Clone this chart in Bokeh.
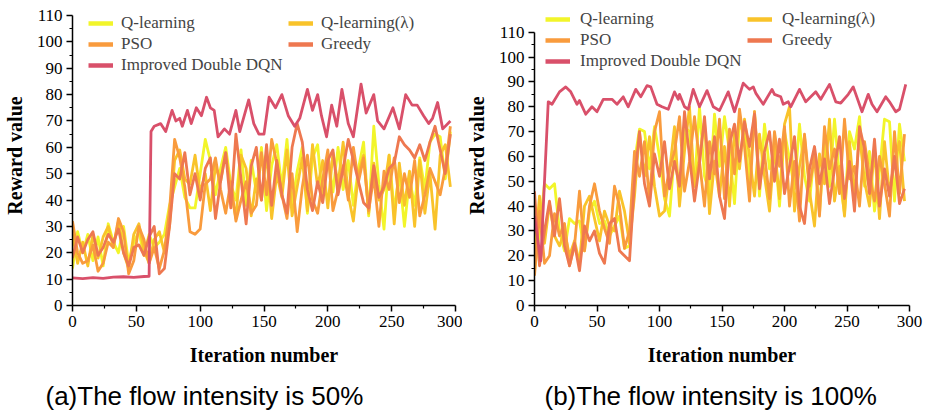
from bokeh.plotting import figure
from bokeh.layouts import row
from bokeh.models import Range1d, Legend, LegendItem, Title, FixedTicker
from bokeh.embed import file_html
from bokeh.resources import INLINE

# ---------------- data ----------------
series_names = ["Q-learning", "Q-learning(\u03bb)", "PSO", "Greedy", "Improved Double DQN"]
series_colors = ["#F2F52A", "#F9C32A", "#F99B3D", "#EE7850", "#D9506A"]

iters = list(range(0, 300, 4))  # shared iteration grid for the four baselines

# (a) flow intensity 50%
a_qlearn = [14, 28, 20, 27, 17, 26, 15, 31, 24, 20, 30, 16, 24, 28, 19, 27, 22, 24, 27,
            38, 45, 52, 41, 37, 37, 50, 63, 55, 42, 52, 60, 46, 40, 59, 38, 55, 43, 60, 36,
            53, 61, 45, 63, 38, 51, 60, 35, 56, 61, 40, 57, 43, 60, 44, 55, 38, 52, 62, 34,
            68, 46, 29, 57, 36, 50, 30, 48, 38, 56, 44, 62, 65, 64, 48, 66]
a_qlambda = [27, 16, 24, 15, 27, 18, 26, 30, 22, 32, 20, 14, 27, 31, 21, 16, 25, 28, 20,
             30, 55, 59, 48, 46, 57, 43, 50, 36, 53, 47, 58, 44, 33, 57, 52, 34, 48, 40, 58,
             33, 50, 41, 59, 34, 45, 56, 36, 61, 45, 55, 37, 58, 46, 62, 42, 32, 50, 57, 35,
             54, 40, 44, 57, 31, 54, 38, 51, 30, 55, 35, 50, 29, 57, 61, 45]
a_pso = [32, 20, 16, 17, 23, 13, 16, 24, 22, 33, 28, 12, 17, 30, 25, 16, 22, 14, 21,
         36, 63, 56, 45, 28, 27, 29, 46, 48, 56, 44, 35, 47, 32, 40, 47, 35, 38, 58, 42,
         63, 54, 42, 33, 50, 28, 45, 57, 40, 35, 48, 59, 36, 44, 53, 40, 60, 47, 56, 36,
         49, 30, 51, 44, 56, 39, 50, 41, 55, 34, 42, 52, 47, 42, 52, 68]
a_greedy = [18, 26, 20, 25, 28, 19, 22, 27, 24, 29, 20, 15, 22, 23, 19, 26, 30, 12, 14,
            30, 50, 48, 58, 42, 50, 40, 52, 56, 33, 47, 58, 37, 65, 48, 31, 53, 60, 40, 61,
            38, 55, 42, 35, 60, 69, 62, 44, 36, 47, 39, 55, 59, 42, 52, 63, 55, 47, 39, 37,
            53, 41, 45, 52, 54, 64, 61, 59, 56, 61, 55, 62, 68, 59, 50, 65]
a_dqn_x = [0, 8, 16, 24, 32, 40, 48, 56, 60, 61.5, 64, 69, 73, 78, 81, 84, 86, 90, 93,
           97, 101, 105, 108, 111, 114, 119, 123, 128, 131, 138, 142, 146, 150, 154, 159,
           164, 169, 174, 178, 184, 188, 192, 195, 199, 203, 207, 211, 216, 220, 226, 230,
           236, 239, 244, 251, 256, 261, 266, 270, 275, 279, 282, 286, 290, 296]
a_dqn_y = [10.5, 10.2, 10.6, 10.3, 10.8, 10.9, 10.7, 11.0, 11.1, 66, 68, 69, 66, 74, 70,
           71, 68, 74, 69, 75, 72, 79, 75, 74, 64, 67, 65, 74, 66, 78, 69, 65, 65, 79, 75,
           80, 72, 68, 71, 82, 74, 80, 72, 64, 76, 68, 82, 69, 64, 84, 73, 80, 70, 67, 75,
           67, 80, 76, 76, 72, 69, 71, 77, 67, 70]

# (b) flow intensity 100%
b_qlearn = [14, 30, 49, 47, 49, 30, 22, 35, 33, 34, 22, 38, 42, 33, 34, 28, 32, 36, 23, 24,
            58, 71, 70, 55, 72, 60, 43, 36, 62, 45, 72, 70, 48, 80, 52, 45, 77, 56, 76, 62,
            41, 74, 68, 50, 78, 44, 73, 55, 64, 40, 70, 59, 47, 73, 52, 42, 62, 37, 66, 48,
            75, 52, 37, 70, 63, 76, 48, 62, 38, 54, 75, 74, 42, 73, 58]
b_qlambda = [20, 44, 25, 41, 28, 24, 30, 20, 26, 17, 40, 44, 35, 26, 38, 32, 30, 46, 38, 25,
             44, 70, 52, 68, 48, 36, 38, 54, 72, 40, 62, 80, 48, 60, 74, 37, 58, 44, 64, 40,
             70, 55, 75, 60, 44, 69, 52, 38, 64, 43, 73, 80, 38, 56, 68, 46, 32, 61, 49, 75,
             42, 56, 36, 66, 44, 69, 50, 40, 63, 35, 66, 45, 58, 66, 42]
b_pso = [12, 38, 17, 20, 37, 28, 33, 16, 24, 46, 22, 40, 49, 38, 31, 25, 48, 40, 23, 30,
         62, 52, 66, 42, 70, 78, 44, 55, 62, 76, 46, 58, 76, 58, 40, 66, 53, 75, 43, 71,
         53, 79, 64, 42, 78, 50, 61, 43, 70, 56, 72, 40, 58, 34, 69, 48, 60, 36, 72, 55,
         63, 45, 75, 51, 56, 40, 66, 52, 42, 60, 49, 36, 70, 45, 69]
b_greedy = [46, 16, 30, 42, 28, 43, 24, 16, 25, 14, 32, 26, 30, 21, 17, 33, 35, 22, 20, 18,
            50, 70, 49, 40, 61, 52, 66, 47, 58, 48, 78, 60, 42, 57, 76, 51, 68, 44, 35, 65,
            73, 58, 74, 64, 77, 47, 62, 70, 50, 67, 45, 56, 68, 40, 33, 55, 64, 49, 59, 41,
            55, 68, 43, 58, 38, 72, 63, 45, 67, 40, 55, 44, 60, 41, 47]
b_dqn_x = [0, 3, 5, 8, 11, 14, 20, 25, 29, 34, 36, 41, 46, 50, 55, 62, 66, 71, 75, 81,
           85, 90, 93, 98, 102, 107, 112, 115, 116, 120, 123, 127, 132, 138, 143, 148, 155,
           160, 167, 172, 175, 177, 183, 190, 192, 197, 199, 203, 205, 212, 217, 225, 229,
           236, 241, 245, 251, 255, 262, 267, 270, 274, 281, 284, 289, 292, 297]
b_dqn_y = [36, 25, 18, 50, 82, 81, 86, 88, 86, 81, 82.5, 77, 80, 78, 83, 83, 81, 84, 80, 87,
           84, 88.5, 88, 81, 80, 79, 86, 83, 85, 80, 79, 87, 80, 86.5, 80, 78.5, 86, 78, 89.5,
           87, 88, 85.5, 81, 87, 85, 84, 81, 82, 80, 87, 82, 86, 83, 89, 82, 81.5, 85, 88, 78,
           85, 81, 78, 84, 82, 78, 79, 89]

x_ticks = [0, 50, 100, 150, 200, 250, 300]
y_ticks = [0, 10, 20, 30, 40, 50, 60, 70, 80, 90, 100, 110]

x_label = "Iteration number"
y_label = "Reward value"
captions = ["(a)The flow intensity is 50%", "(b)The flow intensity is 100%"]

SERIF = "Liberation Serif"
NAN = float("nan")


def make_panel(width, borders, y_top, baselines, dqn_x, dqn_y, caption, cap_offset,
               leg_locs, leg_standoff):
    bl, br, bt, bb = borders
    p = figure(width=width, height=420, output_backend="svg", toolbar_location=None,
               x_range=Range1d(0, 300), y_range=Range1d(0, y_top),
               min_border_left=bl, min_border_right=br, min_border_top=bt,
               min_border_bottom=bb)
    p.outline_line_color = None
    p.xgrid.visible = False
    p.ygrid.visible = False
    p.background_fill_color = None
    p.border_fill_color = "white"

    p.xaxis.ticker = FixedTicker(ticks=x_ticks, minor_ticks=[25, 75, 125, 175, 225, 275])
    p.yaxis.ticker = FixedTicker(ticks=y_ticks, minor_ticks=[t + 5 for t in y_ticks[:-1]])
    p.yaxis.bounds = (0, 110)
    for ax in (p.xaxis[0], p.yaxis[0]):
        ax.axis_line_width = 1.5
        ax.major_tick_line_width = 1.5
        ax.minor_tick_line_width = 1.2
        ax.major_tick_in = 0
        ax.major_tick_out = 6
        ax.minor_tick_in = 0
        ax.minor_tick_out = 3
        ax.major_label_text_font = SERIF
        ax.major_label_text_font_size = "17px"
        ax.major_label_text_color = "black"
        ax.axis_label_text_font = SERIF
        ax.axis_label_text_font_size = "20px"
        ax.axis_label_text_font_style = "bold"
        ax.axis_label_text_color = "black"
    p.xaxis.axis_label = x_label
    p.yaxis.axis_label = y_label
    p.xaxis.axis_label_standoff = 14
    p.yaxis.axis_label_standoff = 8
    p.xaxis.major_label_standoff = 4
    p.yaxis.major_label_standoff = 4

    for vals, col in zip(baselines, series_colors[:4]):
        p.line(iters, vals, line_color=col, line_width=2.8, line_join="round")
    p.line(dqn_x, dqn_y, line_color=series_colors[4], line_width=2.8, line_join="round")

    # legend-only renderers (thicker strokes, as in the original legend)
    dummies = [p.line(x=[NAN], y=[NAN], line_color=c, line_width=4.5) for c in series_colors]
    groups = [[0, 2, 4], [1, 3]]
    for grp, loc in zip(groups, leg_locs):
        leg = Legend(items=[LegendItem(label=series_names[i], renderers=[dummies[i]]) for i in grp],
                     location=loc, orientation="vertical", padding=0, margin=0, spacing=1,
                     glyph_width=25, glyph_height=20, label_height=20,
                     label_standoff=leg_standoff, label_text_font=SERIF,
                     label_text_font_size="17px", background_fill_alpha=0,
                     border_line_alpha=0)
        p.add_layout(leg)

    p.add_layout(Title(text=caption, align="left", offset=cap_offset,
                       text_font="Liberation Sans", text_font_size="26px",
                       text_font_style="normal", text_color="black", standoff=20), "below")
    return p


p1 = make_panel(462, (69, 7, 5, 115), 113.8, [a_qlearn, a_qlambda, a_pso, a_greedy],
                a_dqn_x, a_dqn_y, captions[0], -27, [(16, 230), (216, 251)], 8)
p2 = make_panel(463, (70, 16, 5, 112), 120.76, [b_qlearn, b_qlambda, b_pso, b_greedy],
                b_dqn_x, b_dqn_y, captions[1], 10, [(11, 234), (213, 255)], 10)

layout = row(p1, p2)
open("out.html", "w").write(file_html(layout, INLINE))
